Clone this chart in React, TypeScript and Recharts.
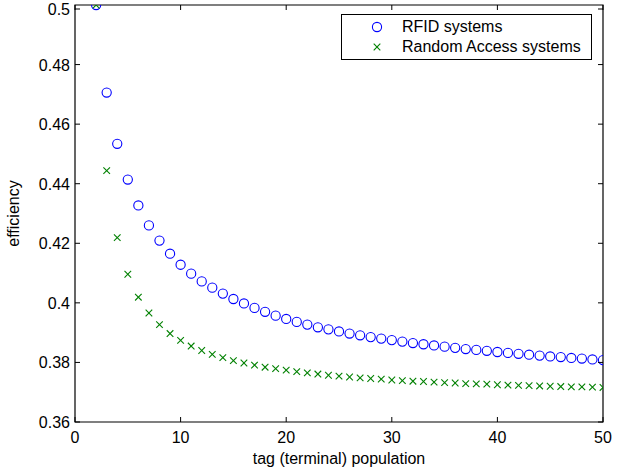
import React from 'react';
import { ReferenceArea, Scatter, ScatterChart, XAxis, YAxis } from 'recharts';

// tag population (number of terminals)
const population = [
  2, 3, 4, 5, 6, 7, 8, 9, 10, 11, 12, 13, 14, 15, 16, 17, 18, 19, 20, 21, 22, 23, 24, 25, 26,
  27, 28, 29, 30, 31, 32, 33, 34, 35, 36, 37, 38, 39, 40, 41, 42, 43, 44, 45, 46, 47, 48, 49, 50,
];

// efficiency
const rfidEff = [
  0.5, 0.4706, 0.4534, 0.4414, 0.4327, 0.426, 0.4209, 0.4165, 0.4128, 0.4098, 0.4072, 0.4051,
  0.4031, 0.4013, 0.3998, 0.3983, 0.397, 0.3957, 0.3946, 0.3936, 0.3927, 0.3918, 0.3911, 0.3904,
  0.3897, 0.3891, 0.3885, 0.388, 0.3875, 0.387, 0.3865, 0.3861, 0.3857, 0.3853, 0.3849, 0.3845,
  0.3842, 0.3839, 0.3835, 0.3832, 0.3829, 0.3826, 0.3823, 0.382, 0.3818, 0.3815, 0.3813, 0.381,
  0.3808,
];

const randomAccessEff = [
  0.5, 0.4444, 0.4219, 0.4096, 0.4019, 0.3966, 0.3927, 0.3897, 0.3874, 0.3855, 0.384, 0.3827,
  0.3816, 0.3806, 0.3798, 0.3791, 0.3784, 0.3779, 0.3774, 0.3769, 0.3765, 0.3761, 0.3757, 0.3754,
  0.3751, 0.3748, 0.3746, 0.3744, 0.3741, 0.3739, 0.3737, 0.3736, 0.3734, 0.3732, 0.3731, 0.3729,
  0.3728, 0.3727, 0.3725, 0.3724, 0.3723, 0.3722, 0.3721, 0.372, 0.3719, 0.3718, 0.3718, 0.3717,
  0.3716,
];

const seriesNames = ['RFID systems', 'Random Access systems'];

const xTicks = [0, 10, 20, 30, 40, 50];
const yTicks = [0.36, 0.38, 0.4, 0.42, 0.44, 0.46, 0.48, 0.5];

const rfidData = population.map((n, i) => ({ n, eff: rfidEff[i] }));
const raData = population.map((n, i) => ({ n, eff: randomAccessEff[i] }));

const FONT = '"Liberation Sans", Arial, Helvetica, sans-serif';
const BLUE = '#0000ff';
const GREEN = '#008000';

const W = 631;
const H = 474;
const TOP = 5;
const BOTTOM = 422;
const LEFT = 75;
const RIGHT = 603;
const TICK = 5;

const CircleMark = (props: any) => {
  const { cx, cy } = props;
  return <circle cx={cx} cy={cy} r={4.6} fill="none" stroke={BLUE} strokeWidth={1.1} />;
};

const CrossMark = (props: any) => {
  const { cx, cy } = props;
  const d = 3.3;
  return (
    <g stroke={GREEN} strokeWidth={1.1}>
      <line x1={cx - d} y1={cy - d} x2={cx + d} y2={cy + d} />
      <line x1={cx - d} y1={cy + d} x2={cx + d} y2={cy - d} />
    </g>
  );
};

// inward ticks on bottom + top, like a matlab box
const XTick = (props: any) => {
  const { x, payload } = props;
  return (
    <g>
      <line x1={x} x2={x} y1={BOTTOM} y2={BOTTOM - TICK} stroke="#000" />
      <line x1={x} x2={x} y1={TOP} y2={TOP + TICK} stroke="#000" />
      <text x={x} y={BOTTOM + 21} textAnchor="middle" fontSize={16} fontFamily={FONT} fill="#000">
        {payload.value}
      </text>
    </g>
  );
};

const YTick = (props: any) => {
  const { y, payload } = props;
  const label = Number(payload.value.toFixed(2)).toString();
  return (
    <g>
      <line x1={LEFT} x2={LEFT + TICK} y1={y} y2={y} stroke="#000" />
      <line x1={RIGHT} x2={RIGHT - TICK} y1={y} y2={y} stroke="#000" />
      <text x={LEFT - 5} y={y + 6} textAnchor="end" fontSize={16} fontFamily={FONT} fill="#000">
        {label}
      </text>
    </g>
  );
};

const LegendBox = () => (
  <div
    style={{
      position: 'absolute',
      left: 341,
      top: 14,
      width: 251,
      border: '1px solid #000',
      background: '#fff',
      fontFamily: FONT,
      fontSize: 16,
      padding: '2px 0 2px 0',
      boxSizing: 'border-box',
    }}
  >
    {seriesNames.map((name, i) => (
      <div key={name} style={{ display: 'flex', alignItems: 'center', height: 20 }}>
        <svg width={60} height={20} style={{ flex: 'none' }}>
          {i === 0 ? <CircleMark cx={35} cy={10} /> : <CrossMark cx={35} cy={10} />}
        </svg>
        <span style={{ color: '#000', whiteSpace: 'nowrap' }}>{name}</span>
      </div>
    ))}
  </div>
);

export default function App() {
  return (
    <div style={{ position: 'absolute', left: 0, top: 0, width: W, height: H, background: '#fff' }}>
      <ScatterChart width={W} height={H} margin={{ top: TOP, right: W - RIGHT, left: 0, bottom: 0 }}>
        <XAxis
          type="number"
          dataKey="n"
          domain={[0, 50]}
          ticks={xTicks}
          tick={<XTick />}
          tickLine={false}
          axisLine={false}
          height={H - BOTTOM}
          allowDataOverflow
          label={{ value: 'tag (terminal) population', position: 'insideBottom', offset: 10, fontSize: 16, fontFamily: FONT, fill: '#000' }}
        />
        <YAxis
          type="number"
          dataKey="eff"
          domain={[0.36, 0.5]}
          ticks={yTicks}
          tick={<YTick />}
          tickLine={false}
          axisLine={false}
          width={LEFT}
          allowDataOverflow
          label={{ value: 'efficiency', angle: -90, position: 'insideLeft', offset: 13, fontSize: 16, fontFamily: FONT, fill: '#000', style: { textAnchor: 'middle' } }}
        />
        <ReferenceArea x1={0} x2={50} y1={0.36} y2={0.5} fill="none" stroke="#000" strokeWidth={1.2} ifOverflow="visible" />
        <Scatter name={seriesNames[0]} data={rfidData} shape={<CircleMark />} fill={BLUE} isAnimationActive={false} />
        <Scatter name={seriesNames[1]} data={raData} shape={<CrossMark />} fill={GREEN} isAnimationActive={false} />
      </ScatterChart>
      <LegendBox />
    </div>
  );
}
